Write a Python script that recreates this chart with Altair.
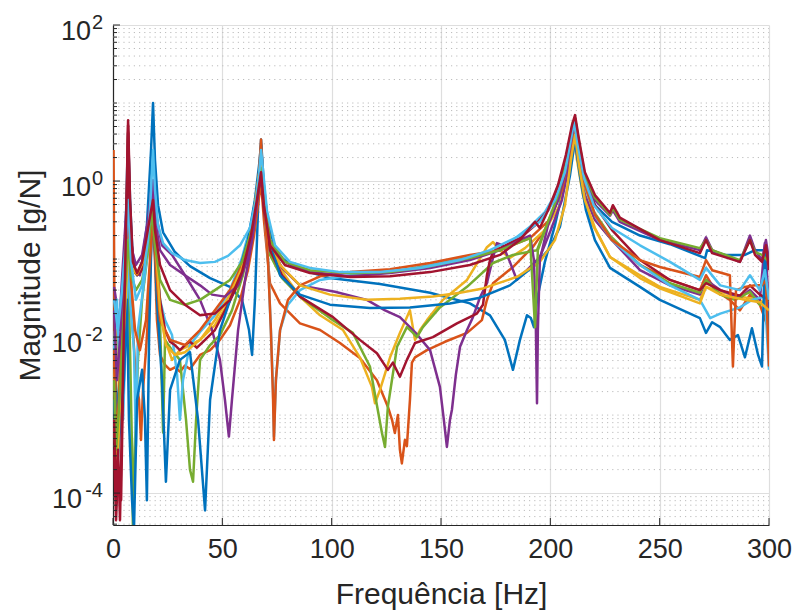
import altair as alt
import pandas as pd

# (frequency [Hz], magnitude [g/N])
s01 = [(0.5,0.012),(1.8,0.00087),(3.2,0.0038),(4.6,0.030),(5.9,0.32),(6.9,4.1),(7.8,0.57),(9.1,0.092),(11.0,0.062),(13.3,0.092),(15.5,0.27),(17.4,2.5),(18.3,10),(19.2,1.86),(20.6,0.49),(22.9,0.22),(28.3,0.123),(35.2,0.081),(44.4,0.057),(53.5,0.044),(59.0,0.030),(62.2,0.0123),(63.6,0.0059),(64.9,0.030),(66.3,0.42),(67.7,3.4),(69.0,0.89),(70.9,0.27),(75.4,0.113),(83.2,0.077),(99.2,0.057),(122.1,0.048),(145.0,0.037),(163.2,0.027),(172.4,0.019),(179.2,0.0092),(182.9,0.0038),(186.1,0.0092),(189.3,0.019),(191.1,0.0175),(192.5,0.0134),(193.9,0.030),(197.5,0.092),(202.1,0.27),(206.7,1.03),(209.4,3.4),(211.3,5.7),(213.1,2.5),(215.8,1.03),(220.4,0.49),(228.2,0.30),(241.0,0.20),(254.7,0.155),(270.8,0.103),(271.7,0.13),(280.0,0.113),(289.0,0.113),(293.6,0.13),(298.1,0.13),(300.0,0.113)]
s02 = [(0.25,2.5),(0.5,0.13),(0.9,0.00157),(1.8,0.0123),(3.2,0.0051),(4.6,0.030),(5.9,0.13),(6.9,4.25),(7.8,0.097),(9.1,0.0123),(10.5,0.0028),(11.9,0.00157),(12.8,0.00048),(13.7,0.0021),(15.1,0.0068),(16.5,0.030),(17.4,0.13),(18.3,0.42),(19.2,0.097),(20.1,0.0165),(21.5,0.0059),(23.8,0.0044),(26.1,0.0038),(28.3,0.0041),(30.6,0.0036),(32.9,0.0043),(35.2,0.0039),(37.5,0.0048),(39.8,0.0059),(44.4,0.0068),(48.9,0.0092),(53.5,0.0142),(58.1,0.030),(61.7,0.072),(64.5,0.20),(66.3,0.49),(67.7,0.97),(69.0,0.32),(71.8,0.049),(76.4,0.027),(85.5,0.015),(94.7,0.0123),(103.8,0.0084),(112.9,0.0054),(120.7,0.0028),(125.7,0.00128),(127.6,0.00087),(128.9,0.00059),(130.3,0.0010),(131.2,0.00036),(132.1,0.00024),(133.5,0.00048),(134.4,0.0004),(135.8,0.00157),(136.7,0.0047),(138.1,0.0055),(143.6,0.0068),(151.8,0.0087),(161.9,0.0113),(168.7,0.0165),(171.0,0.030),(173.8,0.049),(182.9,0.079),(192.0,0.143),(198.9,0.27),(204.4,0.66),(208.0,1.6),(211.3,4.5),(213.1,1.86),(215.8,0.66),(220.4,0.32),(228.2,0.175),(241.0,0.084),(254.7,0.054),(268.4,0.040),(271.2,0.062),(275.4,0.040),(282.1,0.030),(286.7,0.022),(291.3,0.035),(295.8,0.026),(300.0,0.0123)]
s03 = [(0.5,0.0028),(1.8,0.0123),(3.2,0.00087),(4.6,0.0068),(5.9,0.054),(6.9,0.32),(8.2,0.113),(10.1,0.066),(12.3,0.068),(14.6,0.113),(16.9,0.32),(18.3,0.77),(19.7,0.175),(21.5,0.030),(23.8,0.0092),(27.0,0.0051),(30.6,0.0068),(35.2,0.0079),(39.8,0.0092),(46.6,0.0142),(53.5,0.030),(59.4,0.072),(63.6,0.235),(66.3,0.89),(67.7,1.86),(69.0,0.49),(71.8,0.13),(78.6,0.062),(85.5,0.033),(94.7,0.019),(105.2,0.0123),(112.9,0.0055),(118.4,0.0023),(119.8,0.00142),(122.1,0.0021),(126.7,0.0055),(131.2,0.0113),(135.8,0.022),(138.1,0.0092),(140.4,0.0123),(143.6,0.0165),(150.9,0.030),(161.9,0.054),(171.0,0.142),(173.8,0.165),(177.0,0.13),(181.5,0.103),(188.4,0.138),(197.5,0.235),(204.4,0.49),(208.0,1.38),(210.3,4.5),(212.2,1.86),(214.9,0.66),(219.5,0.27),(227.3,0.106),(241.0,0.062),(250.1,0.044),(268.4,0.030),(271.2,0.044),(277.7,0.038),(286.7,0.033),(295.8,0.030),(300.0,0.024)]
s04 = [(0.5,0.044),(1.4,0.030),(2.7,0.0123),(4.1,0.054),(5.5,0.235),(6.9,1.03),(8.2,0.175),(10.1,0.072),(12.3,0.062),(14.6,0.13),(16.9,0.42),(18.3,1.03),(19.7,0.37),(22.4,0.15),(27.0,0.113),(32.9,0.062),(39.8,0.030),(45.3,0.0123),(48.9,0.0051),(51.2,0.00157),(53.0,0.00053),(54.4,0.00157),(57.2,0.0123),(60.4,0.054),(63.6,0.175),(65.8,0.57),(67.7,1.3),(69.0,0.49),(71.8,0.15),(77.3,0.077),(85.5,0.046),(101.5,0.038),(116.1,0.030),(124.4,0.022),(131.2,0.018),(138.1,0.0116),(145.0,0.0068),(149.5,0.0023),(151.3,0.00087),(152.7,0.00039),(154.1,0.00087),(155.0,0.00117),(156.8,0.0033),(158.7,0.0075),(161.9,0.0123),(164.6,0.018),(167.8,0.032),(171.0,0.049),(173.3,0.092),(175.6,0.16),(178.3,0.15),(181.5,0.092),(184.7,0.054),(188.4,0.068),(195.2,0.106),(199.8,0.22),(205.3,0.57),(209.0,1.86),(210.8,3.9),(212.6,1.86),(215.8,0.66),(220.4,0.32),(228.2,0.175),(241.0,0.072),(254.7,0.046),(268.4,0.035),(271.2,0.054),(277.7,0.040),(286.7,0.032),(291.3,0.040),(295.8,0.030),(298.1,0.16),(299.0,0.072),(300.0,0.022)]
s05 = [(0.5,0.00157),(1.8,0.00027),(3.2,0.0028),(4.6,0.0123),(5.9,0.040),(6.9,0.097),(7.8,0.0068),(8.7,0.00036),(9.1,3.5e-5),(10.1,0.00048),(11.4,0.0051),(13.3,0.030),(15.5,0.097),(17.4,0.235),(18.3,0.42),(19.7,0.097),(21.5,0.0165),(22.9,0.0006),(23.8,0.0092),(27.0,0.0068),(30.6,0.0051),(33.4,0.00087),(35.2,0.0002),(36.6,0.00014),(38.0,0.00087),(39.8,0.0051),(44.4,0.0079),(48.9,0.0106),(54.4,0.022),(59.4,0.062),(63.6,0.22),(66.3,0.66),(67.7,1.38),(69.0,0.49),(71.8,0.113),(77.3,0.057),(85.5,0.033),(99.2,0.0175),(109.7,0.0113),(117.5,0.0042),(123.0,0.00059),(124.4,0.00039),(125.7,0.00128),(129.9,0.0075),(134.4,0.0134),(137.2,0.0113),(139.0,0.010),(141.7,0.0134),(149.5,0.024),(161.9,0.044),(173.8,0.089),(182.9,0.113),(193.9,0.13),(198.9,0.30),(204.4,0.66),(208.0,1.86),(210.3,5.7),(212.2,2.5),(214.9,1.03),(219.5,0.42),(227.3,0.20),(241.0,0.084),(254.7,0.049),(268.4,0.037),(271.2,0.054),(277.7,0.035),(284.4,0.030),(291.3,0.038),(295.8,0.026),(300.0,0.030)]
s06 = [(0.5,0.0068),(1.8,0.030),(3.2,0.0028),(4.6,0.00087),(5.9,0.0123),(6.9,0.13),(7.8,0.030),(9.6,0.0068),(10.5,0.0004),(11.4,0.0123),(13.7,0.040),(16.0,0.13),(17.8,0.42),(19.2,0.13),(21.5,0.030),(23.8,0.0165),(27.0,0.0106),(29.3,0.0033),(30.6,0.00087),(32.0,0.0028),(35.2,0.0079),(39.8,0.0116),(46.6,0.019),(53.5,0.040),(59.0,0.103),(63.6,0.32),(65.8,0.77),(67.7,1.86),(69.0,0.57),(70.9,0.097),(72.2,0.0123),(73.2,0.0021),(73.6,0.00053),(74.5,0.0028),(76.4,0.0123),(80.0,0.026),(85.5,0.040),(94.7,0.054),(108.4,0.062),(126.7,0.068),(145.0,0.084),(163.2,0.106),(177.0,0.13),(190.7,0.26),(197.5,0.40),(203.5,0.77),(207.1,1.75),(209.9,4.5),(211.3,5.7),(213.1,2.5),(216.3,0.77),(220.9,0.34),(228.2,0.175),(241.0,0.084),(254.7,0.046),(268.4,0.030),(273.1,0.0175),(277.7,0.020),(286.7,0.024),(292.2,0.030),(298.1,0.033),(300.0,0.0038)]
s07 = [(0.5,0.00036),(1.4,4.5e-5),(2.3,0.0002),(3.7,8.1e-5),(4.6,0.0028),(5.5,0.030),(6.4,0.57),(6.9,5.2),(7.8,0.42),(9.1,0.077),(11.0,0.062),(13.3,0.072),(15.5,0.13),(17.4,0.235),(18.3,0.34),(19.2,0.13),(21.5,0.030),(23.8,0.0123),(26.1,0.0087),(28.3,0.0079),(30.6,0.0068),(32.9,0.0079),(35.2,0.0087),(38.4,0.0073),(42.1,0.0092),(46.6,0.0123),(52.6,0.026),(58.1,0.054),(62.6,0.15),(65.4,0.49),(67.7,1.19),(69.0,0.42),(71.8,0.13),(77.3,0.062),(85.5,0.033),(100.6,0.018),(112.9,0.0092),(120.7,0.0062),(125.7,0.0038),(128.0,0.0047),(131.2,0.0031),(134.4,0.0051),(138.1,0.0084),(146.3,0.010),(157.3,0.015),(166.4,0.020),(169.2,0.026),(171.0,0.062),(172.4,0.097),(173.8,0.123),(177.0,0.138),(186.1,0.185),(193.0,0.27),(198.9,0.42),(203.5,0.77),(207.1,1.86),(209.9,4.8),(211.3,6.4),(213.1,2.9),(215.8,1.03),(220.4,0.49),(228.2,0.235),(241.0,0.097),(254.7,0.054),(268.4,0.040),(271.2,0.049),(277.7,0.040),(286.7,0.034),(291.3,0.046),(295.8,0.035),(300.0,0.030)]
s08 = [(0.5,0.00157),(1.8,0.0002),(3.2,0.00065),(5.0,0.0028),(6.4,0.030),(7.3,0.00087),(8.7,8.1e-5),(9.6,3.5e-5),(11.0,0.00157),(13.3,0.0038),(14.6,0.0009),(15.5,8.1e-5),(16.5,0.010),(17.8,0.32),(18.7,0.235),(20.1,0.030),(22.4,0.0028),(24.2,0.00014),(26.1,0.0021),(30.6,0.0051),(35.2,0.0064),(38.9,0.00087),(42.1,6.0e-5),(44.4,0.00157),(48.9,0.0123),(55.8,0.046),(61.7,0.175),(64.9,0.57),(66.8,1.6),(67.7,2.9),(69.0,0.77),(71.8,0.175),(76.4,0.062),(85.5,0.035),(99.2,0.026),(117.5,0.0235),(135.8,0.024),(154.1,0.027),(167.8,0.032),(181.5,0.046),(193.0,0.084),(199.8,0.138),(204.4,0.26),(209.0,1.19),(211.3,3.4),(213.5,1.19),(216.3,0.42),(220.4,0.175),(227.3,0.077),(241.0,0.044),(250.1,0.030),(268.4,0.0175),(271.2,0.0113),(274.0,0.0155),(277.7,0.0134),(282.1,0.0092),(285.8,0.0106),(289.0,0.0055),(292.2,0.013),(295.0,0.0059),(296.8,0.0042),(298.1,0.13),(299.0,0.030),(300.0,0.0113)]
s09 = [(0.5,0.0068),(1.4,0.00048),(2.7,0.00157),(4.1,0.0123),(5.5,0.072),(6.9,0.57),(8.2,0.054),(10.1,0.0123),(12.3,0.0068),(15.1,0.0165),(16.9,0.097),(18.3,0.37),(19.7,0.072),(21.5,0.0165),(26.1,0.0092),(32.9,0.0079),(39.8,0.0123),(46.6,0.022),(53.5,0.040),(59.0,0.084),(62.6,0.175),(65.4,0.49),(66.8,1.3),(67.7,3.4),(68.6,1.0),(69.5,0.40),(70.9,0.092),(72.2,0.0123),(73.2,0.00157),(73.6,0.00048),(74.5,0.0028),(76.4,0.0123),(80.0,0.030),(85.5,0.046),(94.7,0.060),(108.4,0.068),(126.7,0.074),(145.0,0.089),(163.2,0.113),(177.0,0.13),(190.7,0.185),(199.8,0.32),(205.3,0.77),(209.0,2.5),(210.8,5.2),(212.6,2.5),(215.8,0.89),(220.4,0.37),(228.2,0.175),(241.0,0.097),(250.1,0.079),(268.4,0.059),(271.2,0.097),(274.0,0.072),(282.1,0.062),(283.5,0.0042),(284.9,0.040),(289.0,0.044),(293.6,0.046),(296.8,0.046),(298.6,0.054),(300.0,0.0042)]
s10 = [(0.5,0.00087),(1.8,0.00015),(3.2,0.00157),(5.0,0.0123),(6.4,0.072),(7.3,0.175),(8.7,0.077),(11.0,0.064),(13.7,0.092),(16.5,0.235),(18.3,0.57),(19.7,0.13),(21.5,0.022),(24.2,0.0079),(28.3,0.0059),(32.9,0.0064),(39.8,0.0092),(46.6,0.0165),(53.5,0.035),(59.0,0.077),(63.1,0.22),(65.8,0.77),(67.7,1.86),(69.0,0.57),(71.8,0.175),(76.4,0.084),(85.5,0.046),(99.2,0.035),(116.1,0.030),(131.2,0.031),(146.3,0.033),(158.7,0.037),(169.2,0.042),(184.7,0.059),(195.2,0.092),(202.1,0.175),(206.7,0.49),(209.4,1.86),(211.3,3.9),(213.1,1.6),(215.8,0.57),(220.4,0.25),(227.3,0.106),(241.0,0.057),(250.1,0.042),(268.4,0.027),(271.2,0.044),(277.7,0.035),(289.0,0.030),(295.8,0.028),(300.0,0.022)]
s11 = [(0.5,0.022),(1.8,0.0028),(3.2,0.0092),(5.0,0.054),(6.4,0.32),(7.3,0.42),(8.7,0.13),(10.5,0.084),(13.3,0.113),(16.0,0.32),(17.8,0.89),(19.2,0.32),(21.5,0.13),(26.1,0.084),(32.9,0.062),(39.8,0.046),(45.3,0.035),(51.2,0.033),(57.2,0.046),(61.7,0.103),(64.5,0.27),(66.3,0.66),(67.7,1.38),(69.0,0.57),(71.8,0.175),(78.6,0.092),(90.1,0.068),(108.4,0.060),(126.7,0.066),(145.0,0.077),(163.2,0.097),(177.0,0.13),(186.1,0.175),(190.7,0.20),(192.5,0.097),(193.4,0.0123),(193.9,0.00142),(194.3,0.0123),(195.2,0.097),(198.9,0.27),(203.5,0.57),(207.1,1.38),(209.9,3.9),(211.3,6.0),(213.1,2.9),(215.8,1.09),(220.4,0.57),(227.3,0.36),(228.6,0.42),(231.8,0.30),(250.1,0.175),(268.4,0.13),(271.2,0.19),(274.0,0.13),(286.7,0.092),(291.3,0.20),(293.6,0.13),(296.8,0.097),(298.6,0.175),(300.0,0.097)]
s12 = [(0.5,0.0028),(1.4,0.00036),(2.7,0.00117),(4.1,0.0068),(5.5,0.040),(6.9,0.175),(8.2,0.062),(10.5,0.040),(13.3,0.054),(16.0,0.13),(17.8,0.42),(19.2,0.15),(21.5,0.054),(26.1,0.030),(32.9,0.026),(39.8,0.030),(46.6,0.040),(53.5,0.054),(59.0,0.092),(63.1,0.22),(65.8,0.66),(67.7,1.47),(69.0,0.57),(71.8,0.175),(78.6,0.092),(90.1,0.072),(108.4,0.066),(126.7,0.068),(145.0,0.081),(163.2,0.103),(177.0,0.13),(186.1,0.165),(190.7,0.185),(193.0,0.0134),(194.3,0.13),(198.9,0.30),(203.5,0.66),(207.1,1.6),(209.9,4.5),(211.3,6.4),(213.1,3.2),(215.8,1.19),(220.4,0.61),(227.3,0.37),(228.6,0.45),(231.8,0.32),(250.1,0.185),(268.4,0.138),(271.2,0.175),(274.0,0.13),(286.7,0.097),(291.3,0.175),(293.6,0.123),(296.8,0.113),(300.0,0.092)]
s13 = [(0.5,0.030),(2.3,0.0123),(4.1,0.040),(5.9,0.175),(6.9,0.57),(8.2,0.097),(10.5,0.030),(13.3,0.046),(16.0,0.175),(17.4,0.77),(18.3,2.5),(19.2,0.77),(20.6,0.27),(22.9,0.16),(27.0,0.119),(32.9,0.097),(39.8,0.089),(46.6,0.092),(52.6,0.11),(58.1,0.15),(62.6,0.25),(65.4,0.57),(66.8,1.19),(67.7,2.5),(68.6,1.38),(70.4,0.42),(74.1,0.15),(80.9,0.092),(90.1,0.077),(103.8,0.068),(122.1,0.068),(140.4,0.077),(158.7,0.097),(172.4,0.13),(186.1,0.20),(195.2,0.30),(202.1,0.57),(206.7,1.3),(209.4,3.4),(210.8,5.7),(212.6,2.9),(215.4,1.09),(219.9,0.49),(228.2,0.25),(241.0,0.15),(254.7,0.092),(268.4,0.054),(271.2,0.077),(277.7,0.046),(286.7,0.040),(291.3,0.062),(295.8,0.040),(298.1,0.072),(300.0,0.030)]
s14 = [(0.5,0.00087),(1.4,8.1e-5),(2.3,0.00036),(3.2,4.5e-5),(4.1,0.00087),(5.0,0.0123),(5.9,0.235),(6.9,6.0),(7.8,0.57),(9.1,0.092),(11.0,0.066),(13.3,0.092),(15.5,0.20),(17.4,0.42),(18.3,0.57),(19.2,0.235),(21.5,0.084),(26.1,0.040),(32.9,0.026),(39.8,0.019),(46.6,0.020),(53.5,0.030),(59.0,0.068),(63.1,0.20),(65.8,0.57),(67.7,1.3),(69.0,0.49),(71.8,0.15),(78.6,0.084),(90.1,0.066),(108.4,0.059),(126.7,0.060),(145.0,0.068),(163.2,0.084),(177.0,0.113),(186.1,0.175),(193.0,0.30),(195.2,0.25),(198.9,0.42),(203.5,0.89),(207.1,2.15),(209.9,5.2),(211.3,7.0),(213.1,3.4),(215.8,1.3),(220.4,0.66),(227.3,0.39),(228.6,0.49),(231.8,0.34),(250.1,0.175),(268.4,0.119),(271.2,0.175),(274.0,0.119),(286.7,0.092),(291.3,0.175),(293.6,0.113),(296.8,0.092),(298.6,0.15),(300.0,0.072)]

series_list = [s01, s02, s03, s04, s05, s06, s07, s08, s09, s10, s11, s12, s13, s14]
line_colors = ["#0072BD", "#D95319", "#EDB120", "#7E2F8E", "#77AC30", "#4DBEEE", "#A2142F"] * 2

x_ticks = [0, 50, 100, 150, 200, 250, 300]
y_major = [1e-4, 1e-2, 1, 100]
y_exp = ["-4", "-2", "0", "2"]
x_title = "Frequência [Hz]"
y_title = "Magnitude [g/N]"

rows = []
names = []
for i, s in enumerate(series_list):
    name = f"s{i + 1:02d}"
    names.append(name)
    for j, (f, m) in enumerate(s):
        rows.append({"series": name, "idx": j, "f": f, "m": m})
df = pd.DataFrame(rows)

minor_vals = []
for n in range(-5, 2):
    for k in range(1, 10):
        v = k * 10.0 ** n
        if 3.9e-5 < v < 100 and not any(abs(v - mj) / mj < 1e-9 for mj in y_major):
            minor_vals.append(v)
df_minor = pd.DataFrame({"v": minor_vals})
df_major = pd.DataFrame({"v": y_major, "exp": y_exp})
df_xt = pd.DataFrame({"t": x_ticks})

W, H = 656, 500
FONT = "Liberation Sans"
TXT = "#262626"
xs = alt.Scale(domain=[0, 300], nice=False, zero=False)
ys = alt.Scale(type="log", domain=[3.9e-5, 100], nice=False)

x_axis = alt.Axis(
    values=x_ticks, grid=True, gridColor="#dedede", gridWidth=1.2, ticks=False,
    domainColor=TXT, domainWidth=1.2, labelFont=FONT, labelFontSize=27, labelColor=TXT,
    labelPadding=11, labelFlush=False, labelOverlap=False,
    title=x_title, titleFont=FONT, titleFontSize=30, titleFontWeight="normal", titleColor=TXT,
    titleX=W / 2, titleY=69, titleAlign="center", titleBaseline="middle")
y_axis = alt.Axis(
    values=y_major, grid=True, gridColor="#dedede", gridWidth=1.2, ticks=False, labels=False,
    domainColor=TXT, domainWidth=1.2,
    title=y_title, titleFont=FONT, titleFontSize=30, titleFontWeight="normal", titleColor=TXT,
    titleX=-83, titleY=H / 2, titleAngle=270, titleAlign="center", titleBaseline="middle")

minor_grid = alt.Chart(df_minor).mark_rule(color="#bcbcbc", strokeDash=[1.2, 4], strokeWidth=1).encode(
    y=alt.Y("v:Q", scale=ys, axis=y_axis), x=alt.value(0), x2=alt.value(W))

lines = alt.Chart(df).mark_line(clip=True, strokeWidth=2.5, strokeJoin="round").encode(
    x=alt.X("f:Q", scale=xs, axis=x_axis),
    y=alt.Y("m:Q", scale=ys, axis=y_axis),
    color=alt.Color("series:N", scale=alt.Scale(domain=names, range=line_colors), legend=None),
    order=alt.Order("idx:Q"),
)

y_major_ticks = alt.Chart(df_major).mark_rule(color=TXT, strokeWidth=1).encode(
    y=alt.Y("v:Q", scale=ys, axis=y_axis), x=alt.value(0), x2=alt.value(7))
y_minor_ticks = alt.Chart(df_minor).mark_rule(color=TXT, strokeWidth=1).encode(
    y=alt.Y("v:Q", scale=ys, axis=y_axis), x=alt.value(0), x2=alt.value(4))
x_tick_marks = alt.Chart(df_xt).mark_rule(color=TXT, strokeWidth=1).encode(
    x=alt.X("t:Q", scale=xs, axis=x_axis), y=alt.value(H), y2=alt.value(H - 7))

exp_labels = alt.Chart(df_major).mark_text(align="right", baseline="alphabetic", fontSize=20, dy=4,
                                           font=FONT, color=TXT).encode(
    y=alt.Y("v:Q", scale=ys, axis=y_axis), x=alt.value(-10), text="exp:N")
ten_short = alt.Chart(df_major).transform_filter("length(datum.exp) == 1").mark_text(
    align="right", baseline="alphabetic", fontSize=27, dy=15, font=FONT, color=TXT).encode(
    y=alt.Y("v:Q", scale=ys, axis=y_axis), x=alt.value(-22), text=alt.value("10"))
ten_long = alt.Chart(df_major).transform_filter("length(datum.exp) == 2").mark_text(
    align="right", baseline="alphabetic", fontSize=27, dy=15, font=FONT, color=TXT).encode(
    y=alt.Y("v:Q", scale=ys, axis=y_axis), x=alt.value(-31), text=alt.value("10"))

chart = alt.layer(minor_grid, lines, y_major_ticks, y_minor_ticks, x_tick_marks,
                  exp_labels, ten_short, ten_long).properties(
    width=W, height=H,
    padding={"left": 113, "top": 25, "right": 23, "bottom": 85},
    autosize=alt.AutoSizeParams(type="none"),
    background="white",
).configure_view(strokeWidth=0)

chart.save("out.html", embed_options={"renderer": "svg", "actions": False})
